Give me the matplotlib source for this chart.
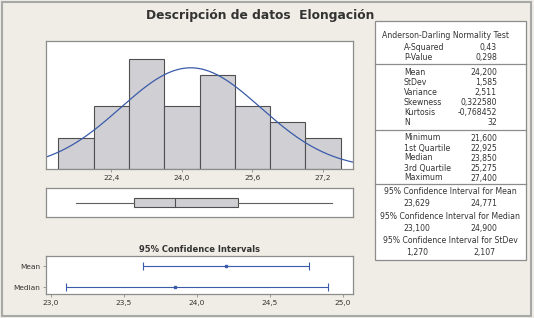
import numpy as np
import matplotlib
matplotlib.use("Agg")
import matplotlib.pyplot as plt
from matplotlib.patches import Rectangle
from matplotlib.ticker import FuncFormatter

# histogram data (bin midpoints and counts)
bin_mids = [21.6, 22.4, 23.2, 24.0, 24.8, 25.6, 26.4, 27.2]
counts = [2, 4, 7, 4, 6, 4, 3, 2]
bin_width = 0.8
hist_ticks = [22.4, 24.0, 25.6, 27.2]

# summary stats
mean = 24.200
stdev = 1.585
n = 32
minimum, q1, median, q3, maximum = 21.600, 22.925, 23.850, 25.275, 27.400

# confidence intervals
ci_labels = ["Mean", "Median"]
ci_centers = [24.200, 23.850]
ci_low = [23.629, 23.100]
ci_high = [24.771, 24.900]
ci_ticks = [23.0, 23.5, 24.0, 24.5, 25.0]

# table rows
ad_rows = [("A-Squared", "0,43"), ("P-Value", "0,298")]
mom_rows = [("Mean", "24,200"), ("StDev", "1,585"), ("Variance", "2,511"),
            ("Skewness", "0,322580"), ("Kurtosis", "-0,768452"), ("N", "32")]
q_rows = [("Minimum", "21,600"), ("1st Quartile", "22,925"), ("Median", "23,850"),
          ("3rd Quartile", "25,275"), ("Maximum", "27,400")]
ci_rows = [("95% Confidence Interval for Mean", "23,629", "24,771"),
           ("95% Confidence Interval for Median", "23,100", "24,900"),
           ("95% Confidence Interval for StDev", "1,270", "2,107")]

W, H = 534, 318
BG = "#EFEDE5"
TXT = "#333333"
FRAME = "#8C8C8C"
BLUE = "#3A5BAA"

plt.rcParams["font.family"] = "DejaVu Sans"

fig = plt.figure(figsize=(W / 100, H / 100), dpi=100, facecolor=BG)


def px(x, y):
    return x / W, 1 - y / H


def add_ax(left, top, right, bottom):
    ax = fig.add_axes([left / W, 1 - bottom / H, (right - left) / W, (bottom - top) / H])
    ax.set_facecolor("white")
    for s in ax.spines.values():
        s.set_color(FRAME)
        s.set_linewidth(0.9)
    return ax


comma = FuncFormatter(lambda v, p: f"{v:.1f}".replace(".", ","))

# outer frame
fig.patches.append(Rectangle((1.5 / W, 1 - 316 / H), 529 / W, 314 / H,
                             transform=fig.transFigure, fill=False,
                             edgecolor="#A8A8A8", linewidth=1.5))

fig.text(*px(260, 15), "Descripción de datos  Elongación", ha="center", va="center",
         fontsize=8.8, fontweight="bold", color=TXT)

# histogram
ax1 = add_ax(46, 41, 353, 169)
xlim = (20.92, 27.88)
ax1.bar(bin_mids, counts, width=bin_width, color="#D0D0D4", edgecolor="#505050", linewidth=0.8)
xs = np.linspace(xlim[0], xlim[1], 300)
pdf = n * bin_width / (stdev * np.sqrt(2 * np.pi)) * np.exp(-0.5 * ((xs - mean) / stdev) ** 2)
ax1.plot(xs, pdf, color=BLUE, linewidth=0.9)
ax1.set_xlim(xlim)
ax1.set_ylim(0, 8.15)
ax1.set_yticks([])
ax1.set_xticks(hist_ticks)
ax1.xaxis.set_major_formatter(comma)
ax1.tick_params(axis="x", length=2.5, width=0.6, color=FRAME, labelsize=5.3,
                labelcolor=TXT, pad=1.5)

# boxplot
ax2 = add_ax(46, 188, 353, 217)
ax2.set_xlim(xlim)
ax2.set_ylim(0, 1)
ax2.set_xticks([])
ax2.set_yticks([])
ax2.plot([minimum, q1], [0.5, 0.5], color="#606060", linewidth=0.8)
ax2.plot([q3, maximum], [0.5, 0.5], color="#606060", linewidth=0.8)
ax2.add_patch(Rectangle((q1, 0.36), q3 - q1, 0.28, facecolor="#D0D0D4",
                        edgecolor="#505050", linewidth=0.8))
ax2.plot([median, median], [0.36, 0.64], color="#505050", linewidth=0.8)

# confidence intervals
ax3 = add_ax(46, 256, 353, 294)
ypos = [1, 0]
for y, c, lo, hi in zip(ypos, ci_centers, ci_low, ci_high):
    ax3.errorbar([c], [y], xerr=[[c - lo], [hi - c]], fmt="s", color=BLUE,
                 markersize=2, capsize=3, elinewidth=0.8, capthick=0.8)
ax3.set_xlim(22.966, 25.07)
ax3.set_ylim(-0.33, 1.48)
ax3.set_xticks(ci_ticks)
ax3.xaxis.set_major_formatter(comma)
ax3.set_yticks(ypos)
ax3.set_yticklabels(ci_labels)
ax3.tick_params(length=2.5, width=0.6, color=FRAME, labelsize=5.3, labelcolor=TXT, pad=1.5)
fig.text(*px(199.5, 250), "95% Confidence Intervals", ha="center", va="center",
         fontsize=6, fontweight="bold", color=TXT)

# summary table
tl, tt, tr, tb = 375, 21, 526, 260
fig.patches.append(Rectangle((tl / W, 1 - tb / H), (tr - tl) / W, (tb - tt) / H,
                             transform=fig.transFigure, facecolor="white",
                             edgecolor=FRAME, linewidth=0.9))
for yl in [64, 130, 184]:
    fig.add_artist(plt.Line2D([tl / W, tr / W], [1 - yl / H] * 2, color=FRAME, linewidth=0.9))

fs = 5.6
fig.text(*px(446, 35), "Anderson-Darling Normality Test", ha="center", va="center",
         fontsize=fs, color=TXT)


def rows(items, y0):
    for i, (lab, val) in enumerate(items):
        y = y0 + 10 * i
        fig.text(*px(404, y), lab, ha="left", va="center", fontsize=fs, color=TXT)
        fig.text(*px(497, y), val, ha="right", va="center", fontsize=fs, color=TXT)


rows(ad_rows, 47.5)
rows(mom_rows, 72.5)
rows(q_rows, 138)

for i, (lab, lo, hi) in enumerate(ci_rows):
    y = 191.5 + 24.7 * i
    fig.text(*px(450, y), lab, ha="center", va="center", fontsize=fs, color=TXT)
    fig.text(*px(417, y + 12), lo, ha="center", va="center", fontsize=fs, color=TXT)
    fig.text(*px(484, y + 12), hi, ha="center", va="center", fontsize=fs, color=TXT)

fig.savefig("out.png", dpi=100, facecolor=BG)
